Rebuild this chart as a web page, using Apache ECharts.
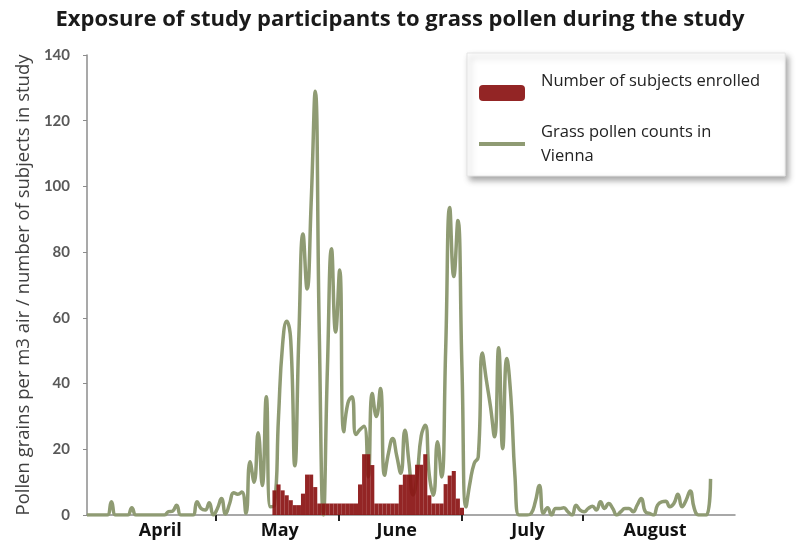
<!DOCTYPE html>
<html>
<head>
<meta charset="utf-8">
<script src="https://cdn.jsdelivr.net/npm/echarts@6/dist/echarts.min.js"></script>
<style>
  html, body { margin: 0; padding: 0; background: #fff; }
  #chart { width: 800px; height: 550px; }
</style>
</head>
<body>
<div id="chart"></div>
<script>
// ---- data (day index 0 = first day shown, early April) ----
const titleText = 'Exposure of study participants to grass pollen during the study';
const yAxisName = 'Pollen grains per m3 air / number of subjects in study';
const seriesNames = ['Number of subjects enrolled', 'Grass pollen counts in Vienna'];
const legendTexts = ['Number of subjects enrolled\n ', 'Grass pollen counts in\nVienna'];

const monthLabels = ['April', 'May', 'June', 'July', 'August'];
const monthLabelDays = [18, 47.3, 76, 108.2, 139.4];
const monthTickDays = [31.6, 61.8, 91.9, 121.6];

// daily grass pollen counts (grains per m3 air), day 0..153
const pollen = [
  0, 0, 0, 0, 0, 0, 4, 0, 0, 0,
  0, 2.2, 0, 0, 0, 0, 0, 0, 0, 0,
  1, 1.2, 3, 0, 0, 0, 0, 4, 2, 1.5,
  3.7, 0, 2, 5, 0.3, 3.5, 6.8, 6.3, 7, 0.5,
  16.2, 10, 25, 9, 36, 2.5, 3, 30, 52, 59,
  53, 15, 55, 85.5, 68.8, 95, 129, 55, 0, 45,
  81, 55.7, 74.6, 25.3, 34, 36, 24.5, 26, 27, 11.6,
  37, 30, 38.5, 12.1, 19, 23.3, 18, 12.7, 25.8, 16,
  6.1, 12, 24, 27.3, 12, 6, 22.3, 11.6, 50, 93.6,
  72.6, 89.6, 45, 2.5, 10, 15.7, 17.7, 49.3, 41, 33,
  23.8, 50.9, 20.2, 47.6, 36, 12, 0, 0, 0, 0.5,
  4, 9, 0.5, 2.2, 0, 2, 2, 2.2, 1, 0,
  3, 1.5, 1, 2, 2.7, 1.5, 4, 2, 3.5, 2,
  0, 1, 2, 2, 1, 3, 5, 1, 0.5, 0,
  3, 4, 4.2, 2.5, 3.5, 6.3, 2.5, 4.5, 7.3, 2,
  0, 0, 0, 11
];

// number of subjects enrolled, starting at day 46
const enrolledFirstDay = 46;
const enrolled = [
  7.5, 9.3, 7.5, 6, 4.5, 3, 3, 6.5, 12.3, 12.3,
  8.5, 3.5, 3.5, 3.5, 3.5, 3.5, 3.5, 3.5, 3.5, 3.5,
  3.5, 9.3, 18.5, 18.5, 15.2, 3.5, 3.5, 3.5, 3.5, 3.5,
  3.5, 9.2, 12.3, 12.3, 12.3, 15.3, 15.3, 18.5, 6, 3.5,
  3.5, 3.5, 9.4, 12, 13.4, 5, 2.2
];

const pollenData = pollen.map((v, i) => [i, v]);
const enrolledData = enrolled.map((v, i) => [enrolledFirstDay + i, v]);

const chart = echarts.init(document.getElementById('chart'), null, { renderer: 'canvas' });
const FONT = '"Open Sans"';
const NUMFONT = 'Lato';
const GREEN = '#8f9b73';

chart.setOption({
  backgroundColor: '#ffffff',
  animation: false,
  title: {
    text: titleText,
    left: 'center',
    top: 4,
    textStyle: { fontFamily: FONT, fontSize: 22, fontWeight: 'bold', color: '#1a1a1a' }
  },
  grid: { left: 87, right: 65, top: 55, bottom: 35, containLabel: false },
  legend: {
    orient: 'vertical',
    left: 467,
    top: 53,
    itemWidth: 46,
    itemHeight: 16,
    itemGap: 3,
    padding: [16, 25, 8, 10],
    backgroundColor: '#ffffff',
    borderColor: '#e4e4e4',
    borderWidth: 1,
    shadowBlur: 6,
    shadowColor: 'rgba(0,0,0,0.35)',
    shadowOffsetX: 3,
    shadowOffsetY: 4,
    data: [
      { name: seriesNames[0], icon: 'roundRect' },
      { name: seriesNames[1], itemStyle: { opacity: 0, borderWidth: 0 }, lineStyle: { width: 4, color: GREEN } }
    ],
    formatter: function (name) { return legendTexts[seriesNames.indexOf(name)]; },
    textStyle: { fontFamily: FONT, fontSize: 16.5, color: '#222', lineHeight: 24, padding: [0, 0, 0, 11] }
  },
  xAxis: {
    type: 'value',
    min: 0,
    max: 159,
    splitLine: { show: false },
    axisLine: { show: true, lineStyle: { color: '#8c8c8c', width: 1.5 } },
    axisTick: {
      show: true,
      customValues: monthTickDays,
      length: 6,
      lineStyle: { color: '#222', width: 2 }
    },
    axisLabel: {
      customValues: monthLabelDays,
      formatter: function (v) {
        const i = monthLabelDays.indexOf(v);
        return i >= 0 ? monthLabels[i] : '';
      },
      margin: 7,
      fontFamily: FONT,
      fontSize: 18,
      fontWeight: 'bold',
      color: '#111'
    }
  },
  yAxis: {
    type: 'value',
    min: 0,
    max: 140,
    interval: 20,
    name: yAxisName,
    nameLocation: 'middle',
    nameRotate: 90,
    nameGap: 48,
    nameTextStyle: { fontFamily: FONT, fontSize: 18.5, color: '#404040' },
    splitLine: { show: false },
    axisLine: { show: true, lineStyle: { color: '#8c8c8c', width: 1.5 } },
    axisTick: { show: true, length: 4, lineStyle: { color: '#8c8c8c' } },
    axisLabel: { margin: 17, fontFamily: NUMFONT, fontSize: 15, fontWeight: 'bold', color: '#595959' }
  },
  series: [
    {
      name: seriesNames[0],
      type: 'bar',
      data: enrolledData,
      barWidth: '100%',
      barCategoryGap: '0%',
      itemStyle: { color: '#8a1212', opacity: 0.92 },
      z: 3
    },
    {
      name: seriesNames[1],
      type: 'line',
      data: pollenData,
      smooth: 0.5,
      symbol: 'none',
      lineStyle: { color: GREEN, width: 3.5 },
      itemStyle: { color: GREEN },
      z: 2
    }
  ]
});
</script>
</body>
</html>
